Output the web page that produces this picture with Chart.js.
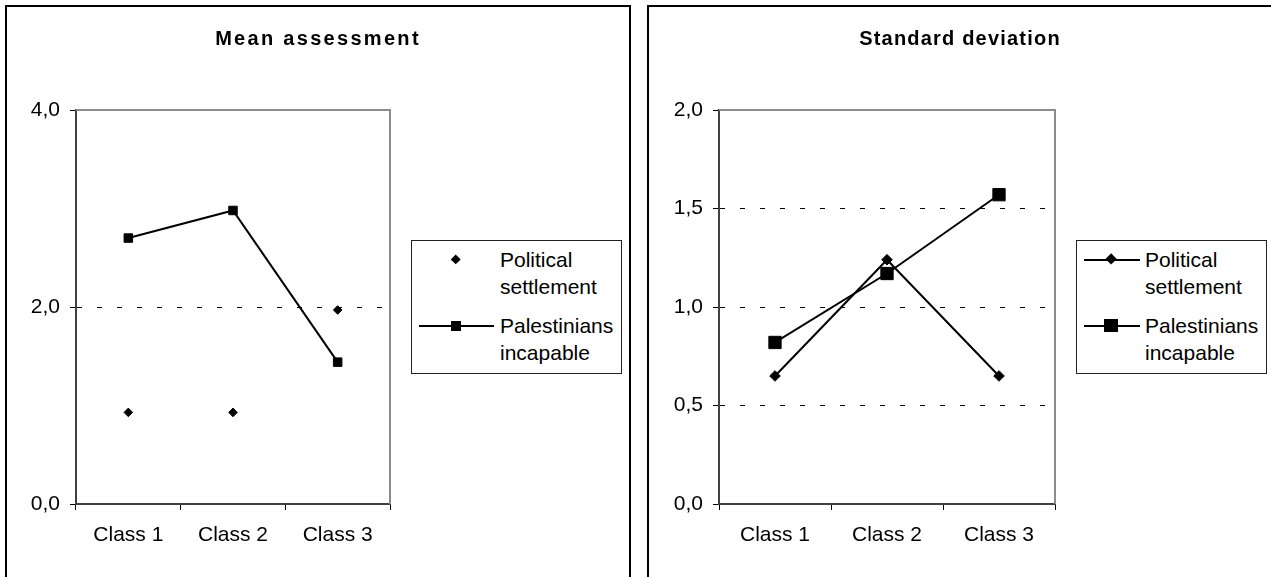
<!DOCTYPE html>
<html lang="en">

<head>
    <meta charset="UTF-8">
    <title>Mean assessment / Standard deviation</title>
    <script src="https://cdn.jsdelivr.net/npm/chart.js"></script>
    <style>
        body {
            margin: 0;
            width: 1271px;
            height: 577px;
            overflow: hidden;
            position: relative;
            background: #fff;
            font-family: "Liberation Sans", Arial, sans-serif;
            color: #000;
        }

        .moldura {
            position: absolute;
            top: 5px;
            width: 626px;
            height: 700px;
            border: 2px solid #000;
            box-sizing: border-box;
        }

        .titulo {
            position: absolute;
            top: 26px;
            width: 636px;
            font-weight: bold;
            font-size: 20px;
            line-height: 24px;
            text-align: center;
            white-space: nowrap;
        }

        canvas {
            position: absolute;
            top: 0;
        }

        .legenda {
            position: absolute;
            top: 240px;
            border: 1px solid #222;
            box-sizing: border-box;
            padding: 5px 0 7px 0;
            background: #fff;
        }

        .itemLegenda {
            display: flex;
            align-items: flex-start;
        }

        .itemLegenda+.itemLegenda {
            margin-top: 12px;
        }

        .simbolo {
            position: relative;
            flex: none;
            height: 27px;
        }

        .linha {
            position: absolute;
            top: 12.5px;
            height: 2px;
            background: #000;
        }

        .marca {
            position: absolute;
            background: #000;
        }

        .textoLegenda {
            font-size: 21px;
            line-height: 27px;
        }
    </style>
</head>

<body>
    <div class="moldura" style="left: 5px;"></div>
    <div class="moldura" style="left: 647px;"></div>

    <canvas id="graficoMedia" width="636" height="577" style="left: 0px;"></canvas>
    <canvas id="graficoDesvio" width="636" height="577" style="left: 642px;"></canvas>

    <div class="titulo" style="left: 0px; letter-spacing: 2.3px;">Mean assessment</div>
    <div class="titulo" style="left: 642px; letter-spacing: 1.2px;">Standard deviation</div>

    <div id="legendaMedia" class="legenda" style="left: 411px; width: 211px;"></div>
    <div id="legendaDesvio" class="legenda" style="left: 1076px; width: 191px;"></div>

    <script>
        // dados
        const categories = ['Class 1', 'Class 2', 'Class 3'];
        const seriesNames = ['Political settlement', 'Palestinians incapable'];

        const meanPolitical = [0.93, 0.93, 1.97];
        const meanPalestinians = [2.70, 2.98, 1.44];
        const meanTicks = [0, 2, 4];

        const sdPolitical = [0.65, 1.24, 0.65];
        const sdPalestinians = [0.82, 1.17, 1.57];
        const sdTicks = [0, 0.5, 1, 1.5, 2];

        Chart.defaults.font.family = '"Liberation Sans", Arial, sans-serif';
        Chart.defaults.color = '#000';

        // borda cinza em cima e a direita da area do grafico
        const molduraPlot = {
            id: 'molduraPlot',
            beforeDatasetsDraw(chart) {
                const a = chart.chartArea;
                const ctx = chart.ctx;
                ctx.save();
                ctx.strokeStyle = '#8c8c8c';
                ctx.lineWidth = 2;
                ctx.beginPath();
                ctx.moveTo(a.left, a.top);
                ctx.lineTo(a.right, a.top);
                ctx.lineTo(a.right, a.bottom);
                ctx.stroke();
                ctx.restore();
            }
        };

        function criarGrafico(idCanvas, datasets, ticks, larguraEixo, larguraSobra) {
            const yMax = ticks[ticks.length - 1];

            const config = {
                type: 'line',
                data: {
                    labels: categories,
                    datasets: datasets
                },
                options: {
                    responsive: false,
                    animation: false,
                    devicePixelRatio: 1,
                    layout: { padding: { top: 110, left: 0, right: 0, bottom: 0 } },
                    plugins: {
                        legend: { display: false },
                        tooltip: { enabled: false }
                    },
                    scales: {
                        x: {
                            offset: true,
                            grid: {
                                offset: true,
                                drawOnChartArea: false,
                                tickLength: 6,
                                tickColor: '#000'
                            },
                            border: { color: '#404040', width: 2 },
                            ticks: { font: { size: 21 }, padding: 13, color: '#000' },
                            afterFit(scale) { scale.height = 73; }
                        },
                        y: {
                            min: ticks[0],
                            max: yMax,
                            afterBuildTicks(scale) {
                                scale.ticks = ticks.map(v => ({ value: v }));
                            },
                            grid: {
                                color: (c) => (c.tick && (c.tick.value === ticks[0] || c.tick.value === yMax)) ? 'rgba(0,0,0,0)' : '#000',
                                lineWidth: 1,
                                tickLength: 6,
                                tickColor: '#000'
                            },
                            border: { color: '#404040', width: 2, dash: [5, 15] },
                            ticks: {
                                font: { size: 21 },
                                padding: 10,
                                color: '#000',
                                callback: (v) => v.toFixed(1).replace('.', ',')
                            },
                            afterFit(scale) { scale.width = larguraEixo; }
                        },
                        // espaco vazio a direita, onde fica a legenda
                        ySobra: {
                            position: 'right',
                            display: true,
                            grid: { display: false },
                            border: { display: false },
                            ticks: { display: false },
                            afterFit(scale) { scale.width = larguraSobra; }
                        }
                    }
                },
                plugins: [molduraPlot]
            };

            return new Chart(document.getElementById(idCanvas), config);
        }

        function montarLegenda(chart, idLegenda, simb) {
            const caixa = document.getElementById(idLegenda);
            chart.data.datasets.forEach(function (ds) {
                const item = document.createElement('div');
                item.className = 'itemLegenda';

                const simbolo = document.createElement('div');
                simbolo.className = 'simbolo';
                simbolo.style.width = simb.largura + 'px';

                if (ds.showLine !== false) {
                    const linha = document.createElement('div');
                    linha.className = 'linha';
                    linha.style.left = simb.linhaInicio + 'px';
                    linha.style.width = simb.linhaLargura + 'px';
                    simbolo.appendChild(linha);
                }

                const marca = document.createElement('div');
                marca.className = 'marca';
                let lado = ds.legendSize;
                if (ds.pointStyle === 'rectRot') {
                    lado = ds.legendSize / Math.SQRT2;
                    marca.style.transform = 'rotate(45deg)';
                }
                marca.style.width = lado + 'px';
                marca.style.height = lado + 'px';
                marca.style.left = (simb.centro - lado / 2) + 'px';
                marca.style.top = (13.5 - lado / 2) + 'px';
                simbolo.appendChild(marca);

                const texto = document.createElement('div');
                texto.className = 'textoLegenda';
                texto.innerText = ds.label;

                item.appendChild(simbolo);
                item.appendChild(texto);
                caixa.appendChild(item);
            });
        }

        const graficoMedia = criarGrafico('graficoMedia', [
            {
                label: seriesNames[0],
                data: meanPolitical,
                showLine: false,
                borderColor: '#000',
                backgroundColor: '#000',
                pointStyle: 'rectRot',
                pointRadius: 4.3,
                pointBorderWidth: 1,
                legendSize: 10.5
            },
            {
                label: seriesNames[1],
                data: meanPalestinians,
                borderColor: '#000',
                backgroundColor: '#000',
                borderWidth: 2,
                tension: 0,
                pointStyle: 'rect',
                pointRadius: 6,
                pointBorderWidth: 1,
                legendSize: 10
            }
        ], meanTicks, 76, 246);

        const graficoDesvio = criarGrafico('graficoDesvio', [
            {
                label: seriesNames[0],
                data: sdPolitical,
                borderColor: '#000',
                backgroundColor: '#000',
                borderWidth: 2,
                tension: 0,
                pointStyle: 'rectRot',
                pointRadius: 5.3,
                pointBorderWidth: 1,
                legendSize: 11.7
            },
            {
                label: seriesNames[1],
                data: sdPalestinians,
                borderColor: '#000',
                backgroundColor: '#000',
                borderWidth: 2,
                tension: 0,
                pointStyle: 'rect',
                pointRadius: 8.7,
                pointBorderWidth: 1,
                legendSize: 13.3
            }
        ], sdTicks, 77, 223);

        montarLegenda(graficoMedia, 'legendaMedia', { largura: 88, linhaInicio: 7, linhaLargura: 75, centro: 44 });
        montarLegenda(graficoDesvio, 'legendaDesvio', { largura: 68, linhaInicio: 7, linhaLargura: 56, centro: 34 });
    </script>
</body>

</html>
